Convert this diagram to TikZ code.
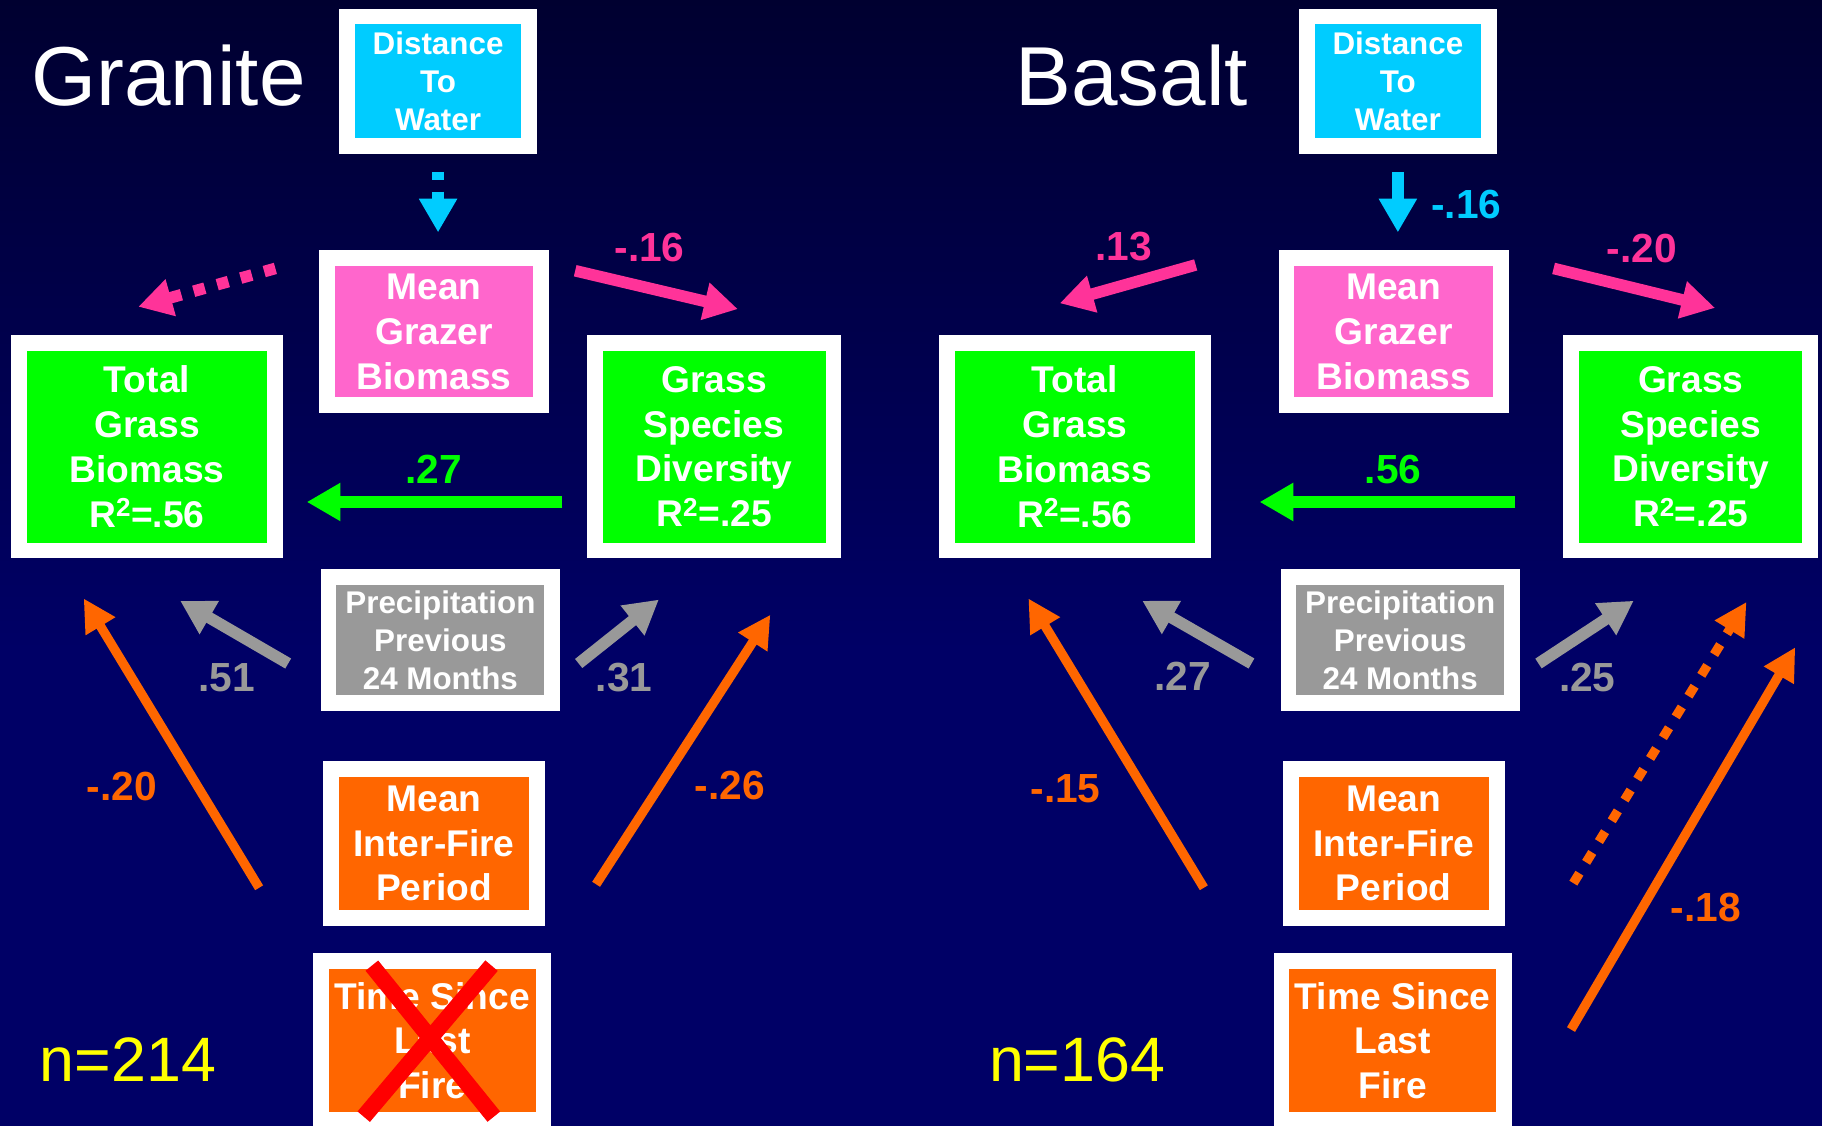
\documentclass[tikz,border=0pt]{standalone}
\usepackage{fontspec}
\setmainfont{Liberation Sans}
\usetikzlibrary{arrows.meta}
\definecolor{bgtop}{RGB}{0,0,48}
\definecolor{bgbot}{RGB}{0,0,102}
\definecolor{wat}{RGB}{0,204,255}
\definecolor{grz}{RGB}{255,102,204}
\definecolor{grzarr}{RGB}{255,51,153}
\definecolor{grs}{RGB}{0,255,0}
\definecolor{prc}{RGB}{153,153,153}
\definecolor{fir}{RGB}{255,102,0}
\definecolor{nyel}{RGB}{255,255,0}
\definecolor{xred}{RGB}{255,0,0}
\tikzset{
  box/.style={draw=white,line width=13.5pt,text=white,align=center,inner sep=0pt,
    font=\bfseries\fontsize{32}{38.5}\selectfont},
  sbox/.style={box,font=\bfseries\fontsize{27}{33}\selectfont},
  lbl/.style={inner sep=0pt,font=\bfseries\fontsize{35}{40}\selectfont},
  ttl/.style={inner sep=0pt,text=white,font=\fontsize{72}{80}\selectfont},
  nn/.style={inner sep=0pt,text=nyel,font=\fontsize{54}{60}\selectfont},
  fat/.style={line width=10pt,-{Triangle[length=29pt,width=31pt]}},
  slim/.style={line width=8pt,-{Triangle[length=28pt,width=28pt]}},
  dots/.style={dash pattern=on 10pt off 11pt},
}

\begin{document}
\begin{tikzpicture}[x=1pt,y=-1pt]
\useasboundingbox (0,0) rectangle (1568,969);
\fill[bgbot] (0,0) rectangle (1568,969);
\shade[top color=bgtop,bottom color=bgbot] (0,0) rectangle (1568,560);

% Granite
\node[ttl] (gr) at (145,65) {Granite};
\node[sbox,fill=wat,minimum width=156.5pt,minimum height=111.5pt] (dw1) at (377,70) {Distance\\To\\Water};
\node[box,fill=grz,minimum width=184.5pt,minimum height=126.5pt] (gz1) at (373.5,285.5) {Mean\\Grazer\\Biomass};
\node[box,fill=grs,minimum width=220.5pt,minimum height=178.5pt] (tb1) at (126.5,384.5) {Total\\Grass\\Biomass\\R\textsuperscript{2}=.56};
\node[box,fill=grs,minimum width=205.5pt,minimum height=178.5pt] (sd1) at (614.5,384.5) {Grass\\Species\\Diversity\\R\textsuperscript{2}=.25};
\node[sbox,fill=prc,minimum width=192.5pt,minimum height=108.5pt] (pr1) at (379,551) {Precipitation\\Previous\\24 Months};
\node[box,fill=fir,minimum width=177.5pt,minimum height=128.5pt] (fp1) at (373.5,726) {Mean\\Inter-Fire\\Period};
\node[box,fill=fir,minimum width=191.5pt,minimum height=136.5pt] (ts1) at (372,895.5) {Time Since\\Last\\Fire};
\node[nn] (n1) at (110,912) {n=214};

\coordinate (a1) at (377,148);
\coordinate (a2) at (377,200);
\coordinate (a3) at (237,231);
\coordinate (a4) at (119,264);
\coordinate (a5) at (495,233);
\coordinate (a6) at (635,266);
\coordinate (a7) at (484,432);
\coordinate (a8) at (264,432);
\coordinate (a9) at (248,571);
\coordinate (a10) at (155,517);
\coordinate (a11) at (498,571);
\coordinate (a12) at (567,516);
\coordinate (a13) at (223,764);
\coordinate (a14) at (72,515);
\coordinate (a15) at (513,761);
\coordinate (a16) at (663,529);
\coordinate (x1) at (320,831);
\coordinate (x2) at (425,961);
\coordinate (x3) at (423,831);
\coordinate (x4) at (313,961);

\draw[fat,wat,dash pattern=on 7pt off 10pt] (a1) -- (a2);
\draw[fat,grzarr,dots] (a3) -- (a4);
\draw[fat,grzarr] (a5) -- (a6);
\draw[fat,grs] (a7) -- (a8);
\draw[fat,prc] (a9) -- (a10);
\draw[fat,prc] (a11) -- (a12);
\draw[slim,fir] (a13) -- (a14);
\draw[slim,fir] (a15) -- (a16);
\draw[xred,line width=14pt] (x1) -- (x2) (x3) -- (x4);

\node[lbl,text=grzarr] (l1) at (559,213) {-.16};
\node[lbl,text=grs] (l2) at (373,404) {.27};
\node[lbl,text=prc] (l3) at (195,583) {.51};
\node[lbl,text=prc] (l4) at (537,583) {.31};
\node[lbl,text=fir] (l5) at (105,677) {-.20};
\node[lbl,text=fir] (l6) at (628,676) {-.26};

% Basalt
\node[ttl] (ba) at (974,65) {Basalt};
\node[sbox,fill=wat,minimum width=156.5pt,minimum height=111.5pt] (dw2) at (1203,70) {Distance\\To\\Water};
\node[box,fill=grz,minimum width=184.5pt,minimum height=126.5pt] (gz2) at (1199.5,285.5) {Mean\\Grazer\\Biomass};
\node[box,fill=grs,minimum width=220.5pt,minimum height=178.5pt] (tb2) at (925,384.5) {Total\\Grass\\Biomass\\R\textsuperscript{2}=.56};
\node[box,fill=grs,minimum width=205.5pt,minimum height=178.5pt] (sd2) at (1455,384.5) {Grass\\Species\\Diversity\\R\textsuperscript{2}=.25};
\node[sbox,fill=prc,minimum width=192.5pt,minimum height=108.5pt] (pr2) at (1205,551) {Precipitation\\Previous\\24 Months};
\node[box,fill=fir,minimum width=177.5pt,minimum height=128.5pt] (fp2) at (1199.5,726) {Mean\\Inter-Fire\\Period};
\node[box,fill=fir,minimum width=191.5pt,minimum height=136.5pt] (ts2) at (1198.5,895.5) {Time Since\\Last\\Fire};
\node[nn] (n2) at (927,912) {n=164};

\coordinate (b1) at (1203,148);
\coordinate (b2) at (1203,200);
\coordinate (b3) at (1029,228);
\coordinate (b4) at (912,261);
\coordinate (b5) at (1337,231);
\coordinate (b6) at (1476,265);
\coordinate (b7) at (1304,432);
\coordinate (b8) at (1084,432);
\coordinate (b9) at (1077,571);
\coordinate (b10) at (983,517);
\coordinate (b11) at (1324,571);
\coordinate (b12) at (1406,517);
\coordinate (b13) at (1036,764);
\coordinate (b14) at (885,515);
\coordinate (b15) at (1354,760);
\coordinate (b16) at (1503,518);
\coordinate (b17) at (1352,886);
\coordinate (b18) at (1545,557);

\draw[fat,wat] (b1) -- (b2);
\draw[fat,grzarr] (b3) -- (b4);
\draw[fat,grzarr] (b5) -- (b6);
\draw[fat,grs] (b7) -- (b8);
\draw[fat,prc] (b9) -- (b10);
\draw[fat,prc] (b11) -- (b12);
\draw[slim,fir] (b13) -- (b14);
\draw[slim,fir,dots] (b15) -- (b16);
\draw[slim,fir] (b17) -- (b18);

\node[lbl,text=wat] (m1) at (1262,176) {-.16};
\node[lbl,text=grzarr] (m2) at (967,212) {.13};
\node[lbl,text=grzarr] (m3) at (1413,214) {-.20};
\node[lbl,text=grs] (m4) at (1199,404) {.56};
\node[lbl,text=prc] (m5) at (1018,582) {.27};
\node[lbl,text=prc] (m6) at (1366,583) {.25};
\node[lbl,text=fir] (m7) at (917,679) {-.15};
\node[lbl,text=fir] (m8) at (1468,781) {-.18};
\end{tikzpicture}
\end{document}
